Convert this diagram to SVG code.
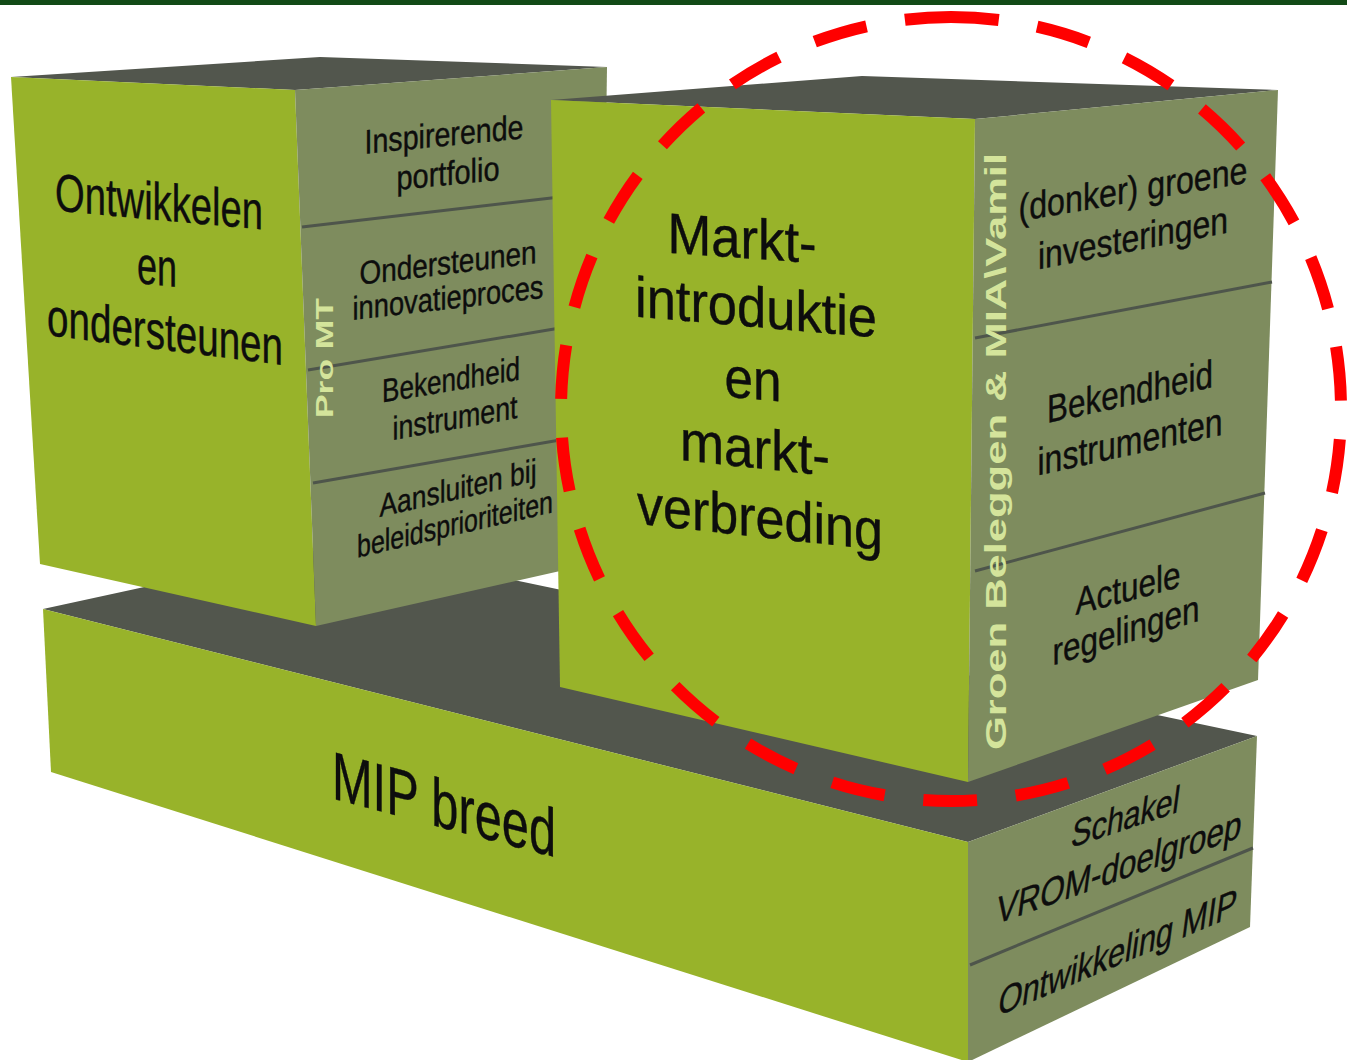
<svg xmlns="http://www.w3.org/2000/svg" width="1347" height="1060" viewBox="0 0 1347 1060">
<style>
.front{fill:#98b32a}
.side{fill:#7e8c5e}
.top{fill:#52564d}
.div{stroke:#4e554b;stroke-width:3;fill:none}
.t{font-family:"Liberation Sans",Arial,sans-serif;fill:#0d0d0d;stroke:#0d0d0d;stroke-width:0.4}
.v{font-family:"Liberation Sans",Arial,sans-serif;font-weight:bold;fill:#d4e49b}
.ring{fill:none;stroke:#ff0000;stroke-width:12;stroke-dasharray:54 38.9;stroke-dashoffset:6}
</style>
<rect x="0" y="0" width="1347" height="1060" fill="#ffffff"/>
<rect x="0" y="0" width="1347" height="5" fill="#124a16"/>

<g id="base-block">
<polygon class="top" points="43,609 343,544 1257,736 968,842"/>
<polygon class="front" points="43,609 968,842 968,1062 51,772"/>
<polygon class="side" points="968,842 1257,736 1250,927 968,1062"/>
<line class="div" x1="970" y1="965" x2="1253" y2="848"/>
<text class="t" font-size="68" x="-112" y="0" textLength="224" lengthAdjust="spacingAndGlyphs" transform="translate(444,828) skewY(14.7)">MIP breed</text>
<text class="t" font-size="37" x="-54" y="0" textLength="108" lengthAdjust="spacingAndGlyphs" transform="translate(1124,830) skewY(-18.4) skewX(-8)">Schakel</text>
<text class="t" font-size="38" x="-122" y="0" textLength="245" lengthAdjust="spacingAndGlyphs" transform="translate(1117,881) skewY(-19.6) skewX(-8)">VROM-doelgroep</text>
<text class="t" font-size="38" x="-119" y="0" textLength="238" lengthAdjust="spacingAndGlyphs" transform="translate(1116,966) skewY(-23) skewX(-8)">Ontwikkeling MIP</text>
</g>

<g id="left-block">
<polygon class="top" points="11,77 320,57 607,67 295,90"/>
<polygon class="front" points="11,77 295,90 316,626 40,564"/>
<polygon class="side" points="295,90 607,67 600,562 316,626"/>
<line class="div" x1="302" y1="227" x2="560" y2="197"/>
<line class="div" x1="308" y1="370" x2="560" y2="328"/>
<line class="div" x1="313" y1="483" x2="560" y2="440"/>
<text class="t" font-size="53" x="-104" y="0" textLength="208" lengthAdjust="spacingAndGlyphs" transform="translate(159,220) skewY(5.2)">Ontwikkelen</text>
<text class="t" font-size="53" x="-20" y="0" textLength="40" lengthAdjust="spacingAndGlyphs" transform="translate(157,285) skewY(6)">en</text>
<text class="t" font-size="53" x="-118" y="0" textLength="236" lengthAdjust="spacingAndGlyphs" transform="translate(165,350) skewY(7.3)">ondersteunen</text>
<text class="t" font-size="34" x="-79.5" y="0" textLength="159" lengthAdjust="spacingAndGlyphs" transform="translate(444,146) skewY(-5.5)">Inspirerende</text>
<text class="t" font-size="34" x="-51.5" y="0" textLength="103" lengthAdjust="spacingAndGlyphs" transform="translate(448,185) skewY(-5.5)">portfolio</text>
<text class="t" font-size="33" x="-88.5" y="0" textLength="177" lengthAdjust="spacingAndGlyphs" transform="translate(448,274) skewY(-7)">Ondersteunen</text>
<text class="t" font-size="33" x="-95.5" y="0" textLength="191" lengthAdjust="spacingAndGlyphs" transform="translate(448,309) skewY(-6.6)">innovatieproces</text>
<text class="t" font-size="33" x="-69" y="0" textLength="138" lengthAdjust="spacingAndGlyphs" transform="translate(451,391) skewY(-9.5)">Bekendheid</text>
<text class="t" font-size="33" x="-62.5" y="0" textLength="125" lengthAdjust="spacingAndGlyphs" transform="translate(455,429) skewY(-10)">instrument</text>
<text class="t" font-size="32" x="-78.5" y="0" textLength="157" lengthAdjust="spacingAndGlyphs" transform="translate(458,499) skewY(-13)">Aansluiten bij</text>
<text class="t" font-size="32" x="-98" y="0" textLength="196" lengthAdjust="spacingAndGlyphs" transform="translate(455,535) skewY(-13)">beleidsprioriteiten</text>
<text class="v" font-size="23" x="0" y="0" textLength="120" lengthAdjust="spacingAndGlyphs" transform="translate(333,418) rotate(-90)">Pro MT</text>
</g>

<g id="right-block">
<polygon class="top" points="551,100 862,76 1278,90 975,119"/>
<polygon class="front" points="551,100 975,119 968,782 560,687"/>
<polygon class="side" points="975,119 1278,90 1258,680 968,782"/>
<line class="div" x1="975" y1="338" x2="1272" y2="282"/>
<line class="div" x1="975" y1="571" x2="1265" y2="493"/>
<text class="t" font-size="57" x="-74.5" y="0" textLength="149" lengthAdjust="spacingAndGlyphs" transform="translate(742,258) skewY(4)">Markt-</text>
<text class="t" font-size="57" x="-121" y="0" textLength="242" lengthAdjust="spacingAndGlyphs" transform="translate(756,327) skewY(5)">introduktie</text>
<text class="t" font-size="57" x="-28.5" y="0" textLength="57" lengthAdjust="spacingAndGlyphs" transform="translate(753,399) skewY(5)">en</text>
<text class="t" font-size="57" x="-75" y="0" textLength="150" lengthAdjust="spacingAndGlyphs" transform="translate(755,468) skewY(6)">markt-</text>
<text class="t" font-size="57" x="-123" y="0" textLength="246" lengthAdjust="spacingAndGlyphs" transform="translate(760,537) skewY(6.2)">verbreding</text>
<text class="t" font-size="38" x="-114.5" y="0" textLength="229" lengthAdjust="spacingAndGlyphs" transform="translate(1133,202) skewY(-9.6)">(donker) groene</text>
<text class="t" font-size="38" x="-95" y="0" textLength="190" lengthAdjust="spacingAndGlyphs" transform="translate(1133,251) skewY(-11)">investeringen</text>
<text class="t" font-size="39" x="-83" y="0" textLength="166" lengthAdjust="spacingAndGlyphs" transform="translate(1130,405) skewY(-12.2)">Bekendheid</text>
<text class="t" font-size="39" x="-92.5" y="0" textLength="185" lengthAdjust="spacingAndGlyphs" transform="translate(1130,455) skewY(-12.5)">instrumenten</text>
<text class="t" font-size="38" x="-52.5" y="0" textLength="105" lengthAdjust="spacingAndGlyphs" transform="translate(1128,601) skewY(-15)">Actuele</text>
<text class="t" font-size="38" x="-73.5" y="0" textLength="147" lengthAdjust="spacingAndGlyphs" transform="translate(1126,643) skewY(-17)">regelingen</text>
<text class="v" font-size="30" x="0" y="0" textLength="597" lengthAdjust="spacingAndGlyphs" transform="translate(1006,750) rotate(-90)">Groen Beleggen &amp; MIA\Vamil</text>
</g>

<g id="highlight">
<path class="ring" d="M951,17 A390,392 0 1 1 951,801 A390,392 0 1 1 951,17"/>
</g>
</svg>
